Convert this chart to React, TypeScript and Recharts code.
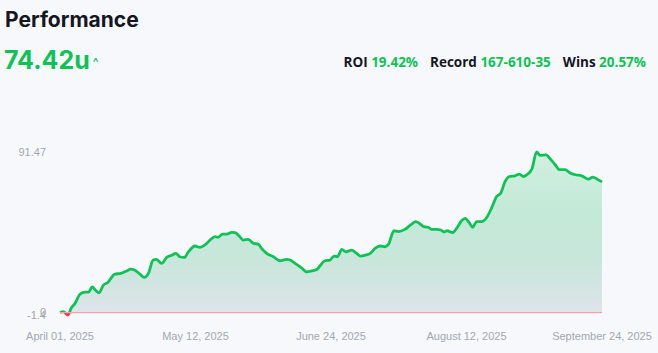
import { Area, ComposedChart, ReferenceLine, XAxis, YAxis } from "recharts";

// index of the point along the season (0..160) and running units
const idx = [
  0, 1.0, 2.3, 3.4, 4.4, 5.9, 7.4, 8.4, 9.5, 10.5, 11.5, 12.8, 14.1, 16.2, 18.0, 19.7, 20.9, 22.1, 23.6, 24.9,
  26.1, 27.5, 28.5, 30.0, 31.5, 33.0, 34.2, 35.4, 36.7, 37.9, 39.9, 41.3, 42.8, 44.3, 45.8, 46.7, 48.0, 49.2, 50.7, 51.7,
  52.9, 54.1, 55.6, 57.1, 58.5, 59.5, 61.0, 63.0, 64.9, 66.9, 67.9, 69.4, 71.3, 72.8, 74.3, 75.8, 77.3, 78.2, 79.7, 80.9,
  81.9, 83.2, 84.4, 86.1, 87.4, 88.8, 90.1, 91.6, 93.0, 94.5, 96.0, 97.0, 98.6, 99.9, 101.8, 103.5, 105.0, 106.3, 107.4, 108.7,
  109.7, 111.2, 112.4, 113.4, 114.3, 115.9, 117.3, 118.6, 119.6, 120.8, 121.8, 123.0, 124.5, 126.0, 127.4, 128.9, 130.1, 131.4, 132.7, 134.3,
  135.6, 136.8, 137.8, 139.3, 140.7, 141.7, 143.5, 144.9, 146.2, 147.4, 149.1, 150.6, 152.1, 154.0, 156.0, 157.3, 158.6, 160,
];
const units = [
  0, 0.5, -1.4, 2.8, 5.1, 10.4, 11.6, 11.6, 14.6, 12.7, 11.2, 15.6, 17.1, 21.9, 22.3, 23.7, 24.7, 24.1, 21.9, 20.0,
  22.3, 29.9, 30.3, 28.0, 31.4, 32.6, 33.7, 31.8, 31.4, 34.6, 37.9, 37.1, 38.5, 41.3, 43.2, 42.9, 44.7, 44.7, 45.7, 45.5,
  43.6, 41.3, 41.7, 39.4, 39.0, 36.6, 33.7, 31.8, 29.5, 30.3, 29.9, 28.0, 25.5, 23.2, 23.7, 24.5, 28.0, 29.5, 29.9, 32.2,
  31.8, 36.0, 34.6, 35.6, 34.0, 32.2, 32.7, 33.7, 36.6, 37.9, 37.5, 39.0, 46.6, 46.1, 47.4, 49.9, 51.8, 50.5, 48.9, 48.6,
  47.4, 47.4, 47.0, 45.9, 46.6, 45.5, 48.6, 52.4, 53.7, 51.2, 48.6, 51.8, 51.8, 54.3, 59.5, 66.1, 68.0, 74.7, 77.5, 77.9,
  78.9, 77.5, 78.5, 81.8, 91.47, 89.6, 89.8, 87.1, 84.2, 81.4, 81.4, 79.5, 78.5, 77.9, 76.0, 77.2, 76.0, 74.42,
];

const xTicks = [0, 40, 80, 120, 160];
const xLabels = ["April 01, 2025", "May 12, 2025", "June 24, 2025", "August 12, 2025", "September 24, 2025"];
const yTicks = [-1.4, 0, 91.47];

const data = idx.map((t, i) => ({ t, units: units[i] }));

const maxV = Math.max(...units);
const minV = Math.min(...units);
const split = maxV / (maxV - minV);

const GREEN = "#0fc256";
const RED = "#f0364a";
const tickStyle = { fill: "#a3a7b0", fontSize: 11, fontFamily: "'Liberation Sans', Arial, sans-serif" };

export default function App() {
  return (
    <div
      style={{
        position: "relative",
        width: 658,
        height: 353,
        background: "#f7f8fc",
        overflow: "hidden",
        fontFamily: "Inter, 'Noto Sans', sans-serif",
      }}
    >
      <style>{`body{margin:0;background:#f7f8fc}`}</style>
      <div style={{ position: "absolute", left: 0, top: 0 }}>
        <ComposedChart width={658} height={353} data={data} margin={{ top: 152, right: 56, bottom: 0, left: 0 }}>
          <defs>
            <linearGradient id="lineSplit" x1="0" y1="0" x2="0" y2="1">
              <stop offset={split} stopColor={GREEN} />
              <stop offset={split} stopColor={RED} />
            </linearGradient>
            <linearGradient id="fillSplit" x1="0" y1="0" x2="0" y2="1">
              <stop offset="0%" stopColor={GREEN} stopOpacity={0.15} />
              <stop offset="100%" stopColor="#d3d7e3" stopOpacity={0.6} />
            </linearGradient>
          </defs>
          <XAxis
            type="number"
            dataKey="t"
            domain={[0, 160]}
            ticks={xTicks}
            interval={0}
            tickFormatter={(v: number) => xLabels[xTicks.indexOf(v)]}
            axisLine={false}
            tickLine={false}
            tickMargin={11}
            height={38}
            tick={tickStyle}
          />
          <YAxis
            domain={[-1.4, 91.47]}
            ticks={yTicks}
            interval={0}
            axisLine={false}
            tickLine={false}
            tickMargin={8}
            width={60}
            tick={tickStyle}
          />
          <Area
            type="monotone"
            dataKey="units"
            stroke="url(#lineSplit)"
            strokeWidth={2.8}
            fill="url(#fillSplit)"
            fillOpacity={1}
            isAnimationActive={false}
            dot={false}
            activeDot={false}
          />
          <ReferenceLine y={0} stroke="#f5a3ad" strokeWidth={1.2} />
        </ComposedChart>
      </div>

      <div style={{ position: "absolute", left: 5, top: 7, fontSize: 21, fontWeight: 700, color: "#16161f" }}>
        Performance
      </div>
      <div style={{ position: "absolute", left: 4, top: 45, display: "flex", alignItems: "center" }}>
        <span style={{ fontSize: 25, fontWeight: 700, color: GREEN }}>74.42u</span>
        <span style={{ fontSize: 12, fontWeight: 600, color: GREEN, marginLeft: 3, marginTop: 3 }}>^</span>
      </div>
      <div
        style={{
          position: "absolute",
          right: 12,
          top: 53,
          display: "flex",
          gap: 12,
          fontSize: 13.5,
          fontWeight: 700,
          fontFamily: "'Open Sans', 'Noto Sans', sans-serif",
          color: "#16161f",
        }}
      >
        <span>
          ROI <span style={{ color: GREEN }}>19.42%</span>
        </span>
        <span>
          Record <span style={{ color: GREEN }}>167-610-35</span>
        </span>
        <span>
          Wins <span style={{ color: GREEN }}>20.57%</span>
        </span>
      </div>
    </div>
  );
}
